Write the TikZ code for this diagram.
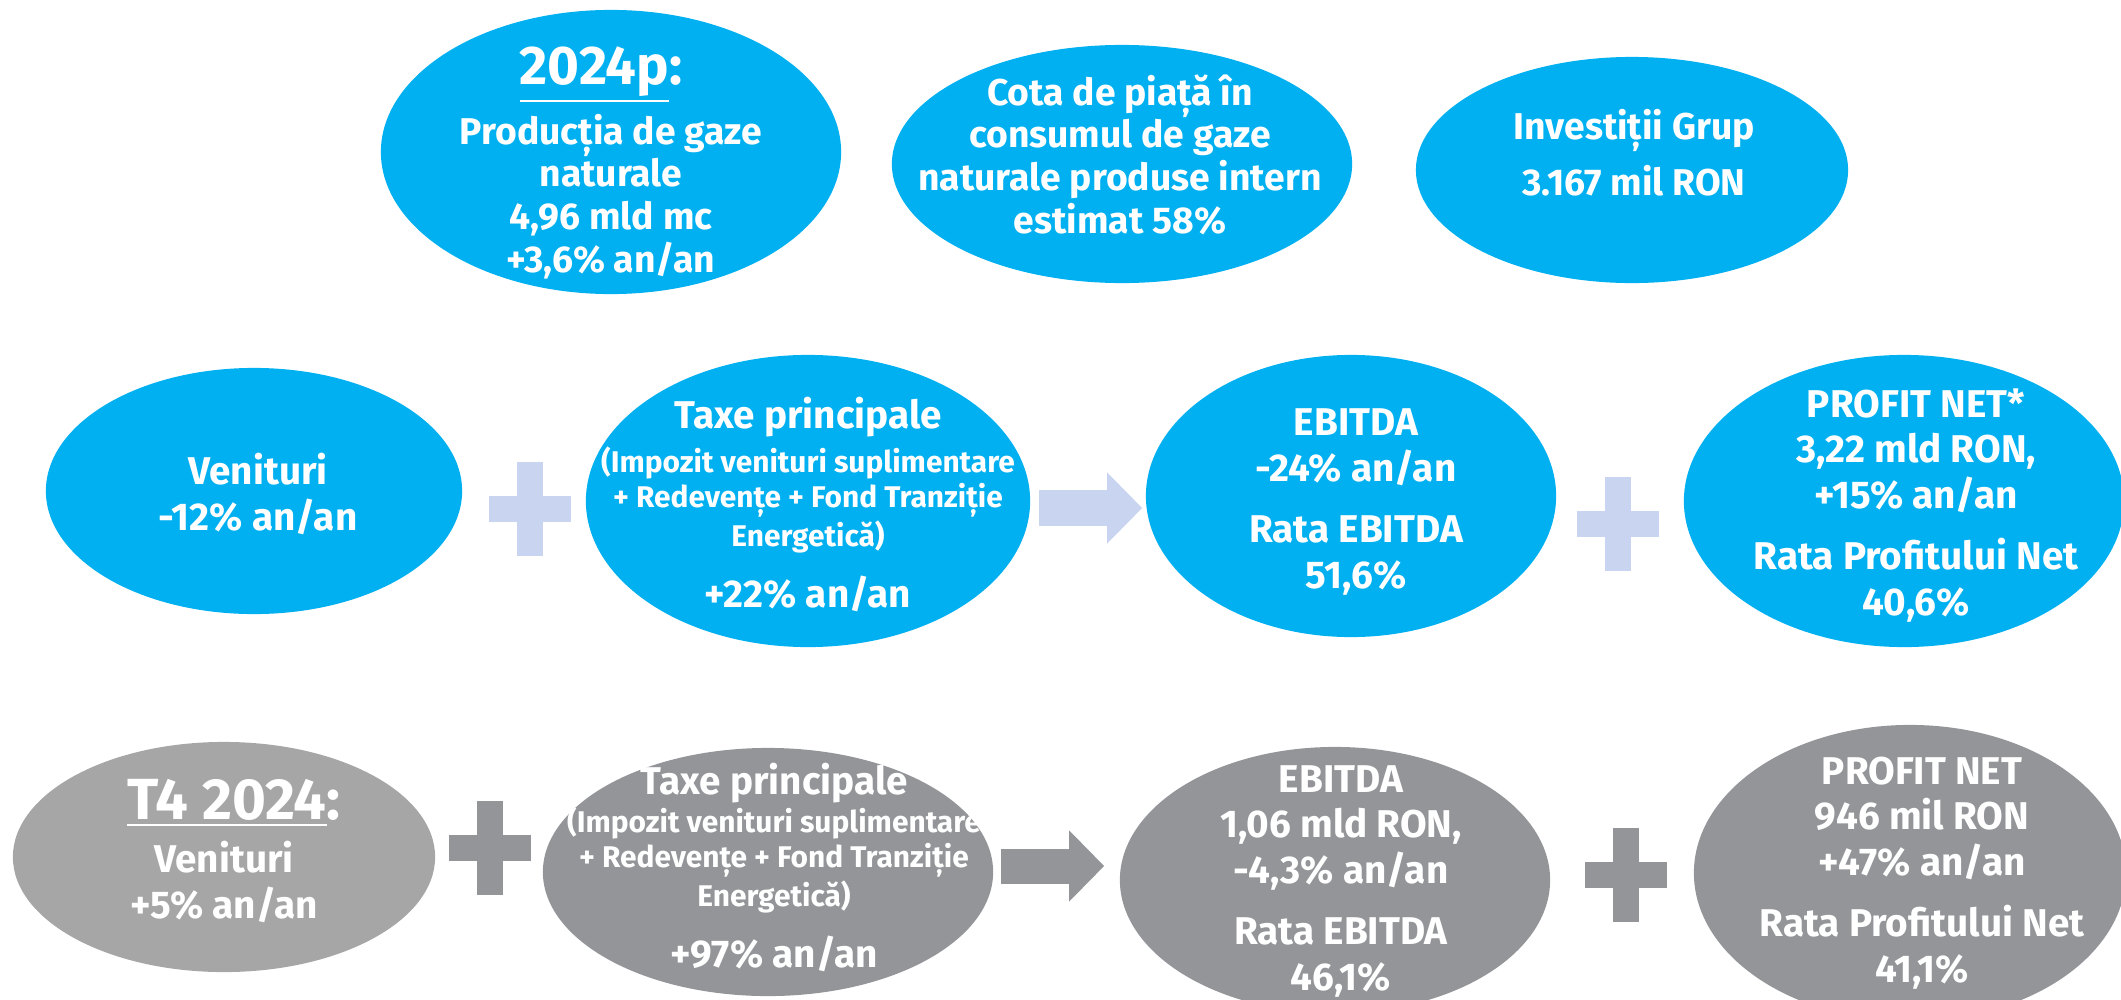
\documentclass[tikz,border=0pt]{standalone}
\usepackage{fontspec}
\setmainfont{Fira Sans}
\usepackage{tikz}
\usetikzlibrary{shapes.geometric,arrows.meta}

\definecolor{skyblue}{HTML}{00B0F0}
\definecolor{lavplus}{HTML}{C8D4F0}
\definecolor{greyA}{HTML}{A6A6A6}
\definecolor{greyB}{HTML}{939598}

\begin{document}
\begin{tikzpicture}[x=0.01cm,y=-0.01cm,
  blob/.style={ellipse,inner sep=0pt,fill=skyblue},
  txt/.style={text=white,align=center,inner sep=0pt,anchor=base,
    font=\bfseries\fontsize{11}{13}\selectfont},
  toptxt/.style={txt,font=\bfseries\fontsize{10.6}{12.1}\selectfont},
  small/.style={txt,font=\bfseries\fontsize{8.5}{9.7}\selectfont},
  head/.style={txt,font=\bfseries\fontsize{15.5}{18}\selectfont},
  blockarr/.style={line width=0.35cm,-{Triangle[length=0.35cm,width=0.69cm]}}]
\useasboundingbox (0,0) rectangle (2121,1000);
\clip (0,0) rectangle (2121,1000);

% Top row (text nodes sit on the baseline of their last line)
\node[blob,minimum width=4.6cm,minimum height=2.84cm] (prod) at (611,152) {};
\node[head] (prodH) at (601,84) {\underline{2024p}:};
\node[toptxt] (prodT) at (611,272) {Producția de gaze\\naturale\\4,96 mld mc\\+3,6\% an/an};

\node[blob,minimum width=4.6cm,minimum height=2.38cm] (cota) at (1122,164) {};
\node[toptxt] (cotaT) at (1120,233) {Cota de piață în\\consumul de gaze\\naturale produse intern\\estimat 58\%};

\node[blob,minimum width=4.32cm,minimum height=2.26cm] (inv) at (1632,170) {};
\node[toptxt] (invT) at (1634,195) {Investiții Grup\\[0.13cm]3.167 mil RON};

% Middle row: 2024p
\node[blob,minimum width=4.16cm,minimum height=2.46cm] (ven) at (254,491) {};
\node[txt] (venT) at (258,530) {Venituri\\-12\% an/an};

\fill[lavplus] (489,496) rectangle (571,522);
\fill[lavplus] (517,462) rectangle (543,556);

\node[blob,minimum width=4.44cm,minimum height=2.92cm] (tax) at (808,501) {};
\node[txt] (taxT) at (808,428) {Taxe principale};
\node[small] (taxD) at (808,546) {(Impozit venituri suplimentare\\+ Redevențe + Fond Tranziție\\Energetică)};
\node[txt] (taxP) at (808,607) {+22\% an/an};

\node[blob,minimum width=4.1cm,minimum height=2.82cm] (ebit) at (1351,496) {};
\draw[blockarr,lavplus] ([shift={(8,7)}]tax.east) -- ([shift={(-3,12)}]ebit.west);
\node[txt] (ebitT) at (1356,588) {EBITDA\\-24\% an/an\\[0.15cm]Rata EBITDA\\51,6\%};

\fill[lavplus] (1577,511) rectangle (1659,537);
\fill[lavplus] (1605,477) rectangle (1631,571);

\node[blob,minimum width=4.4cm,minimum height=2.92cm] (prof) at (1904,501) {};
\node[txt] (profT) at (1916,615) {PROFIT NET*\\3,22 mld RON,\\+15\% an/an\\[0.15cm]Rata Profitului Net\\40,6\%};

% Bottom row: T4 2024
\node[blob,fill=greyA,minimum width=4.22cm,minimum height=2.3cm] (venq) at (224,857) {};
\node[head,font=\bfseries\fontsize{16.5}{19}\selectfont] (venqH) at (234,819) {\underline{T4 2024}:};
\node[txt] (venqT) at (224,918) {Venituri\\+5\% an/an};

\fill[greyB] (449,835) rectangle (531,861);
\fill[greyB] (477,801) rectangle (503,895);

\node[blob,fill=greyB,minimum width=4.5cm,minimum height=2.48cm] (taxq) at (768,872) {};
\node[txt] (taxqT) at (774,794) {Taxe principale};
\node[small] (taxqD) at (774,906) {(Impozit venituri suplimentare\\+ Redevențe + Fond Tranziție\\Energetică)};
\node[txt] (taxqP) at (774,967) {+97\% an/an};

\node[blob,fill=greyB,minimum width=4.3cm,minimum height=2.66cm] (ebitq) at (1335,880) {};
\draw[blockarr,greyB] ([shift={(7,-6)}]taxq.east) -- ([shift={(-15,-14)}]ebitq.west);
\node[txt] (ebitqT) at (1341,990) {EBITDA\\1,06 mld RON,\\-4,3\% an/an\\[0.15cm]Rata EBITDA\\46,1\%};

\fill[greyB] (1585,862) rectangle (1667,888);
\fill[greyB] (1613,828) rectangle (1639,922);

\node[blob,fill=greyB,minimum width=4.32cm,minimum height=2.96cm] (profq) at (1910,873) {};
\node[txt] (profqT) at (1922,982) {PROFIT NET\\946 mil RON\\+47\% an/an\\[0.15cm]Rata Profitului Net\\41,1\%};
\end{tikzpicture}
\end{document}
